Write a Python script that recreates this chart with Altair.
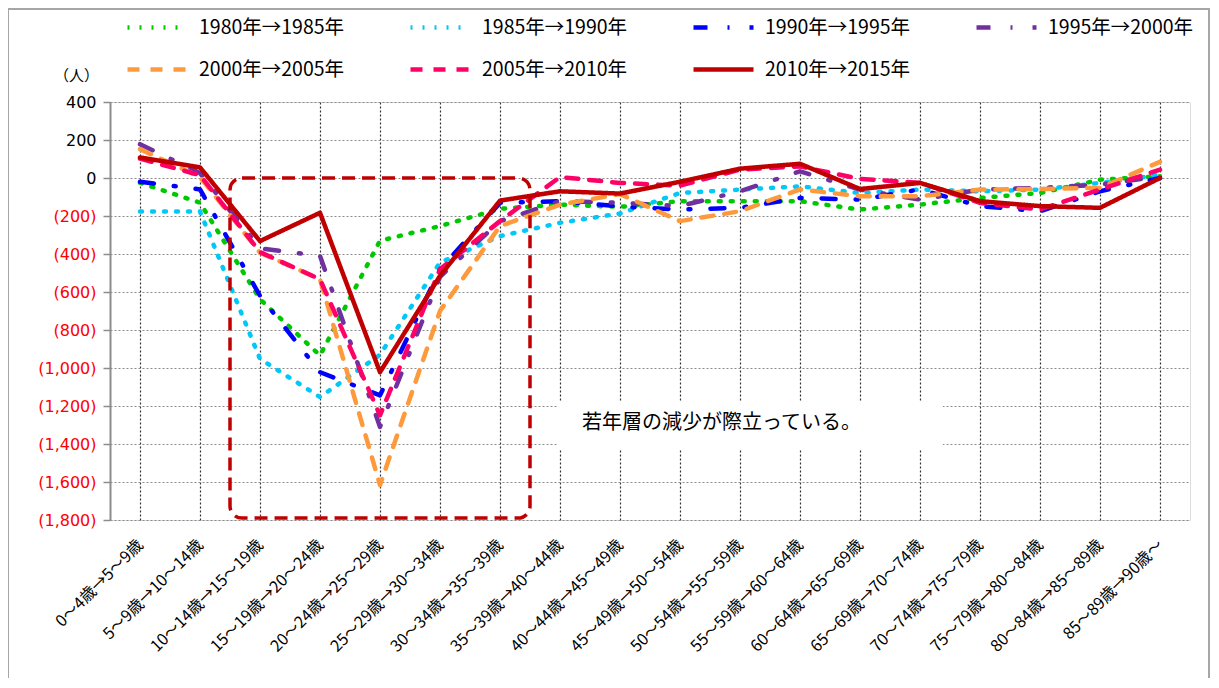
import json
import altair as alt
import pandas as pd

categories = ["0～4歳→5～9歳", "5～9歳→10～14歳", "10～14歳→15～19歳", "15～19歳→20～24歳",
              "20～24歳→25～29歳", "25～29歳→30～34歳", "30～34歳→35～39歳", "35～39歳→40～44歳",
              "40～44歳→45～49歳", "45～49歳→50～54歳", "50～54歳→55～59歳", "55～59歳→60～64歳",
              "60～64歳→65～69歳", "65～69歳→70～74歳", "70～74歳→75～79歳", "75～79歳→80～84歳",
              "80～84歳→85～89歳", "85～89歳→90歳～"]

series = ["1980年→1985年", "1985年→1990年", "1990年→1995年", "1995年→2000年",
          "2000年→2005年", "2005年→2010年", "2010年→2015年"]

v1980 = [-25, -130, -638, -934, -330, -253, -162, -140, -152, -122, -122, -122, -166, -140, -105, -79, -9, 9]
v1985 = [-176, -176, -952, -1153, -930, -445, -306, -236, -187, -79, -61, -44, -79, -61, -70, -61, -26, 17]
v1990 = [-20, -60, -620, -1022, -1144, -480, -131, -122, -150, -166, -157, -105, -114, -60, -148, -175, -70, 0]
v1995 = [178, 26, -370, -410, -1310, -520, -227, -122, -130, -148, -70, 35, -61, -114, -61, -52, -35, 9]
v2000 = [152, 5, -393, -533, -1616, -700, -253, -140, -85, -227, -175, -60, -96, -96, -61, -58, -52, 85]
v2005 = [102, 15, -390, -533, -1249, -480, -227, 5, -26, -40, 44, 61, -5, -25, -131, -166, -61, 44]
v2010 = [108, 56, -332, -183, -1022, -515, -119, -70, -82, -20, 49, 75, -58, -26, -122, -148, -157, 0]

values = [v1980, v1985, v1990, v1995, v2000, v2005, v2010]
y_ticks = list(range(-1800, 401, 200))

colors = ["#00C800", "#00C8F8", "#0000FF", "#7030A0", "#FF9A3C", "#FF0066", "#C00000"]
dashes = [[2, 10], [2, 10], [14, 20, 2, 20], [14, 20, 2, 20], [12, 11], [12, 11], [1, 0]]
widths = [4.5, 4.5, 5, 5, 4.5, 5, 4.5]

rows = []
for s, vals in zip(series, values):
    for i, v in enumerate(vals):
        rows.append({"idx": i, "cat": categories[i], "series": s, "value": v})
df = pd.DataFrame(rows)

note_box = pd.DataFrame([{"x": 1.5, "x2": 6.5, "y": 0, "y2": -1790}])
text_box = pd.DataFrame([{"x": 6.97, "x2": 13.38, "y": -1174, "y2": -1426}])
note = pd.DataFrame([{"x": 9.69, "y": -1290, "t": "若年層の減少が際立っている。"}])

cat_js = "[" + ",".join(json.dumps(c) for c in categories) + "]"

xscale = alt.Scale(domain=[-0.5, 17.5], nice=False, zero=False)
yscale = alt.Scale(domain=[-1800, 400], nice=False, zero=False)

xaxis = alt.Axis(values=list(range(len(categories))), tickCount=40, labelExpr=cat_js + "[datum.value]",
                 labelAngle=-45, labelAlign="right", labelBaseline="middle", labelPadding=22,
                 labelFont="Noto Sans CJK JP", labelFontSize=16, labelColor="#000000",
                 grid=True, gridColor="#333333", gridDash=[2, 2], gridWidth=1.2,
                 domain=False, ticks=False, title=None, labelOverlap=False, labelBound=False)
yaxis = alt.Axis(values=y_ticks, tickCount=30,
                 labelExpr="datum.value < 0 ? '(' + format(-datum.value, ',') + ')' : format(datum.value, ',')",
                 labelColor={"condition": {"test": "datum.value < 0", "value": "#FF0000"}, "value": "#000000"},
                 labelFont="DejaVu Sans", labelFontSize=16, labelPadding=7,
                 labelOverlap=False, labelBound=False, labelFlush=False,
                 grid=True, gridColor="#8C8C8C", gridDash=[2, 2], gridWidth=1.2,
                 domainColor="#8C8C8C", domainWidth=2, tickColor="#8C8C8C", tickSize=7, tickWidth=1.5,
                 title="（人）", titleAngle=0, titleX=-34, titleY=-27, titleAlign="center",
                 titleBaseline="middle", titleFont="Noto Sans CJK JP", titleFontSize=15,
                 titleFontWeight="normal", titleColor="#000000")

legend = alt.Legend(title=None, orient="none", legendX=15, legendY=-107, columns=4,
                    direction="horizontal",
                    columnPadding=56, rowPadding=-23, symbolType="stroke", symbolSize=3600,
                    labelFont="Noto Sans CJK JP", labelFontSize=19.5, labelColor="#000000",
                    labelOffset=9, labelLimit=300)

lines = alt.Chart(df).mark_line(strokeCap="round", strokeJoin="round").encode(
    x=alt.X("idx:Q", scale=xscale, axis=xaxis),
    y=alt.Y("value:Q", scale=yscale, axis=yaxis),
    color=alt.Color("series:N", scale=alt.Scale(domain=series, range=colors), legend=legend),
    strokeDash=alt.StrokeDash("series:N", scale=alt.Scale(domain=series, range=dashes), legend=legend),
    strokeWidth=alt.StrokeWidth("series:N", scale=alt.Scale(domain=series, range=widths), legend=legend),
    order="idx:Q",
)

box = alt.Chart(note_box).mark_rect(filled=False, stroke="#C00000", strokeWidth=3.5,
                                    strokeDash=[13, 7], cornerRadius=12).encode(
    x="x:Q", x2="x2:Q", y="y:Q", y2="y2:Q")

white = alt.Chart(text_box).mark_rect(fill="white", strokeWidth=0).encode(
    x="x:Q", x2="x2:Q", y="y:Q", y2="y2:Q")

label = alt.Chart(note).mark_text(font="Noto Sans CJK JP", fontSize=20, color="#000000",
                                  align="center", baseline="middle").encode(
    x="x:Q", y="y:Q", text="t:N")

border = alt.Chart(note).mark_rect(filled=False, stroke="#A6A6A6", strokeWidth=2).encode(
    x=alt.value(-102), x2=alt.value(1099), y=alt.value(-93), y2=alt.value(620))

chart = alt.layer(lines, white, label, box, border).properties(
    width=1080, height=418,
    autosize=alt.AutoSizeParams(type="none"),
    padding={"left": 102, "top": 94, "right": 20, "bottom": 158},
).configure_view(stroke=None).configure(background="white")

chart.save("out.html", embed_options={"renderer": "svg", "actions": False})
